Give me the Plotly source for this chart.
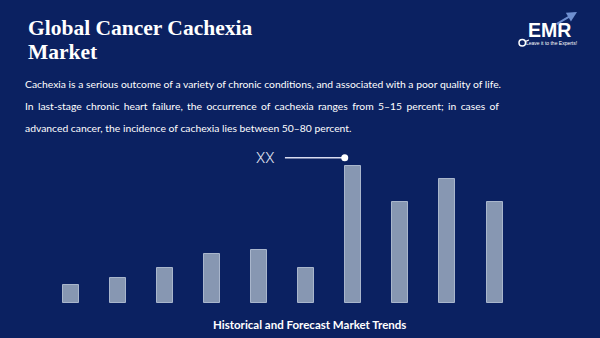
import plotly.graph_objects as go

# ---- data ----
categories = list(range(10))
values = [1.3, 1.85, 2.55, 3.6, 3.9, 2.55, 10.0, 7.4, 9.05, 7.4]
marker_label = "XX"
marker_line_x = [4.55, 5.82]
marker_line_y = [10.6, 10.6]

title_lines = ["Global Cancer Cachexia", "Market"]
para_lines = [
    "Cachexia is a serious outcome of a variety of chronic conditions, and associated with a poor quality of life.",
    "In last-stage chronic heart failure, the occurrence of cachexia ranges from 5\u201315 percent; in cases of",
    "advanced cancer, the incidence of cachexia lies between 50\u201380 percent.",
]
footer = "Historical and Forecast Market Trends"

BG = "#0b2161"
BAR = "#8797b2"
BAR_EDGE = "#a9b6cc"
W, H = 600, 338

fig = go.Figure()
fig.add_trace(go.Bar(
    x=categories, y=values, width=0.34,
    marker=dict(color=BAR, line=dict(color=BAR_EDGE, width=1)),
    hoverinfo="skip",
))
fig.add_trace(go.Scatter(
    x=marker_line_x, y=marker_line_y, mode="lines",
    line=dict(color="#d9dcf0", width=1.5), hoverinfo="skip",
))
fig.add_trace(go.Scatter(
    x=[marker_line_x[-1]], y=[marker_line_y[-1]], mode="markers",
    marker=dict(color="white", size=7), hoverinfo="skip",
))

ann = []
ann.append(dict(x=4.36, y=marker_line_y[0], xref="x", yref="y", text=marker_label,
                showarrow=False, xanchor="right", yanchor="middle",
                font=dict(family="Roboto", size=15, color="#e3e6f3", weight=300)))

def px(x): return x / W
def py(y): return 1 - y / H

# title
ann.append(dict(x=px(26), y=py(28), xref="paper", yref="paper",
                text="<b>" + title_lines[0] + "</b>", showarrow=False,
                xanchor="left", yanchor="middle",
                font=dict(family="Liberation Serif", size=21.5, color="white")))
ann.append(dict(x=px(26), y=py(52), xref="paper", yref="paper",
                text="<b>" + title_lines[1] + "</b>", showarrow=False,
                xanchor="left", yanchor="middle",
                font=dict(family="Liberation Serif", size=21.5, color="white")))
# paragraph (middle line is justified in the reference: widen its spaces)
for i, (line, yy) in enumerate(zip(para_lines, [83.5, 105.5, 128])):
    txt = line.replace(" ", " \u2006") if i == 1 else line
    ann.append(dict(x=px(23), y=py(yy), xref="paper", yref="paper", text=txt,
                    showarrow=False, xanchor="left", yanchor="middle",
                    font=dict(family="Lato", size=10.35, color="white")))
# footer
ann.append(dict(x=px(309), y=py(324), xref="paper", yref="paper",
                text="<b>" + footer + "</b>", showarrow=False,
                xanchor="center", yanchor="middle",
                font=dict(family="Lato", size=11.5, color="white")))
# logo
ann.append(dict(x=px(549), y=py(30), xref="paper", yref="paper", text="<b>EMR</b>",
                showarrow=False, xanchor="center", yanchor="middle",
                font=dict(family="Liberation Sans", size=19.5, color="white")))
ann.append(dict(x=px(551), y=py(42.5), xref="paper", yref="paper",
                text="Leave it to the Experts!", showarrow=False,
                xanchor="center", yanchor="middle",
                font=dict(family="Liberation Sans", size=5, color="white")))
ann.append(dict(x=px(577), y=py(12), ax=-22, ay=13, xref="paper", yref="paper",
                text="", showarrow=True,
                arrowhead=2, arrowsize=1, arrowwidth=2, arrowcolor="#6f8fd0"))

shapes = [
    dict(type="circle", xref="paper", yref="paper",
         x0=px(519), x1=px(525.5), y0=py(46), y1=py(39.5),
         line=dict(color="white", width=1.5), fillcolor=BG),
    dict(type="line", xref="paper", yref="paper",
         x0=px(525), y0=py(41.5), x1=px(529), y1=py(40),
         line=dict(color="white", width=1.2)),
]

fig.update_layout(
    width=W, height=H,
    margin=dict(l=0, r=0, t=0, b=0),
    paper_bgcolor=BG, plot_bgcolor=BG,
    showlegend=False,
    xaxis=dict(range=[-1.5, 11.24], domain=[0, 1], visible=False, fixedrange=True),
    yaxis=dict(range=[0, 22.12], domain=[35 / H, 1], visible=False, fixedrange=True),
    annotations=ann, shapes=shapes,
    bargap=0,
)
fig.write_html("out.html")
